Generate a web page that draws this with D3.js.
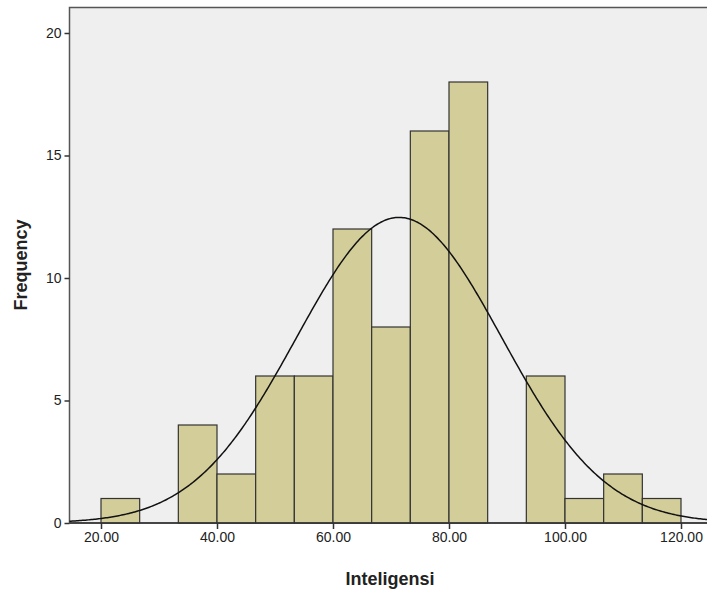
<!DOCTYPE html>
<html><head><meta charset="utf-8">
<script src="https://cdn.jsdelivr.net/npm/d3@7"></script>
<style>body{margin:0;background:#fff}text{font-family:"Liberation Sans",Arial,sans-serif}</style>
</head><body><svg id="c" width="707" height="597"></svg>
<script>
const binStarts=[20,26.667,33.333,40,46.667,53.333,60,66.667,73.333,80,86.667,93.333,100,106.667,113.333];
const binWidth=6.667;
const counts=[1,0,4,2,6,6,12,8,16,18,0,6,1,2,1];
const xTicks=[20,40,60,80,100,120];
const yTicks=[0,5,10,15,20];
const mean=71.4, sd=17.7;
const N=d3.sum(counts);
const svg=d3.select("#c");
const x=d3.scaleLinear().domain([20,120]).range([101,681]);
const y=d3.scaleLinear().domain([0,20]).range([523,33]);
const L=69.5,T=7.5,R=708,B=523;
svg.append("rect").attr("x",L).attr("y",T).attr("width",R-L).attr("height",B-T).attr("fill","#efefef").attr("stroke","#555").attr("stroke-width",1.5);
svg.selectAll("rect.bar").data(binStarts.map((s,i)=>({s,c:counts[i]})).filter(d=>d.c>0)).enter().append("rect")
 .attr("x",d=>x(d.s)).attr("width",d=>x(d.s+binWidth)-x(d.s)).attr("y",d=>y(d.c)).attr("height",d=>y(0)-y(d.c))
 .attr("fill","#d3ce99").attr("stroke","#333").attr("stroke-width",1.2);
const xs=d3.range(x.invert(L),x.invert(R),0.25);
const f=v=>N*binWidth/(sd*Math.sqrt(2*Math.PI))*Math.exp(-0.5*((v-mean)/sd)**2);
svg.append("path").attr("d",d3.line().x(v=>x(v)).y(v=>y(f(v)))(xs)).attr("fill","none").attr("stroke","#111").attr("stroke-width",1.5);
const ya=svg.append("g").attr("transform",`translate(${L},0)`).call(d3.axisLeft(y).tickValues(yTicks).tickSize(5).tickFormat(d3.format("d")));
const xa=svg.append("g").attr("transform",`translate(0,${B})`).call(d3.axisBottom(x).tickValues(xTicks).tickSize(6).tickFormat(d3.format(".2f")));
[ya,xa].forEach(a=>{a.select(".domain").remove();a.selectAll("line").attr("stroke","#333").attr("stroke-width",1.5);a.selectAll("text").attr("font-size",14).attr("fill","#222").attr("font-family","Liberation Sans, Arial, sans-serif");});
svg.append("line").attr("x1",L).attr("x2",R).attr("y1",B).attr("y2",B).attr("stroke","#333").attr("stroke-width",1.5);
svg.append("text").attr("x",390).attr("y",585).attr("text-anchor","middle").attr("font-size",18).attr("font-weight","bold").attr("fill","#222").text("Inteligensi");
svg.append("text").attr("transform","translate(27,265) rotate(-90)").attr("text-anchor","middle").attr("font-size",18).attr("font-weight","bold").attr("fill","#222").text("Frequency");
</script></body></html>
